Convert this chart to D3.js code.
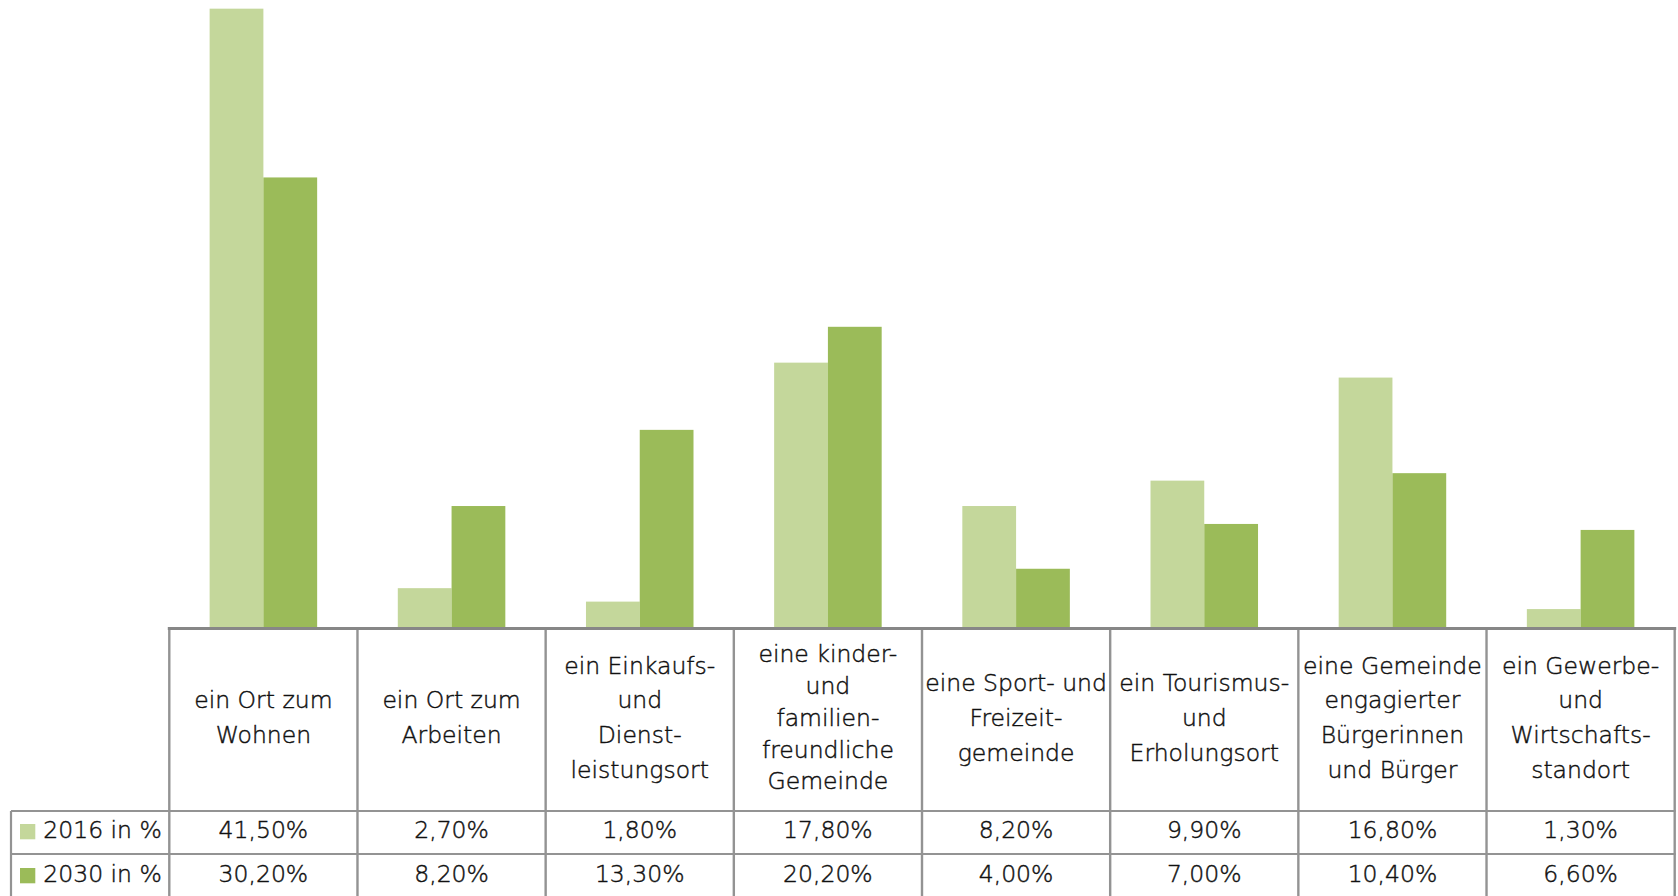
<!DOCTYPE html>
<html>
<head>
<meta charset="utf-8">
<script src="https://cdn.jsdelivr.net/npm/d3@7"></script>
<style>
  html, body { margin: 0; padding: 0; background: #ffffff; }
  svg { display: block; }
  text { font-family: "DejaVu Sans", sans-serif; font-weight: 300; fill: #111111; stroke: #111111; stroke-width: 0.45px; }
</style>
</head>
<body>
<svg id="chart" width="1678" height="896"></svg>
<script>
// Category labels, broken into the lines shown in the table header cells
const categories = [
  ["ein Ort zum", "Wohnen"],
  ["ein Ort zum", "Arbeiten"],
  ["ein Einkaufs-", "und", "Dienst-", "leistungsort"],
  ["eine kinder-", "und", "familien-", "freundliche", "Gemeinde"],
  ["eine Sport- und", "Freizeit-", "gemeinde"],
  ["ein Tourismus-", "und", "Erholungsort"],
  ["eine Gemeinde", "engagierter", "Bürgerinnen", "und Bürger"],
  ["ein Gewerbe-", "und", "Wirtschafts-", "standort"]
];
const seriesNames = ["2016 in %", "2030 in %"];
const values2016 = [41.5, 2.7, 1.8, 17.8, 8.2, 9.9, 16.8, 1.3];
const values2030 = [30.2, 8.2, 13.3, 20.2, 4.0, 7.0, 10.4, 6.6];
const seriesColors = ["#c4d79b", "#9bbb59"];

const svg = d3.select("#chart");

// Layout
const plotLeft = 169.3, plotRight = 1674.7;
const baseY = 628.5, topY = 1.2;
const legendLeft = 11;
const rowLines = [811, 854, 897];
const rowBaselines = [838, 882];
const headerCenter = 725.8;
const gridColor = "#939393";

const catIdx = categories.map((d, i) => i);
const x0 = d3.scaleBand().domain(catIdx).range([plotLeft, plotRight]).padding(0);
const x1 = d3.scaleBand().domain([0, 1]).range([0, x0.bandwidth()])
  .paddingInner(0).paddingOuter(0.75);
const y = d3.scaleLinear().domain([0, 42]).range([baseY, topY]);

const seriesData = [values2016, values2030];

// Bars
const groups = svg.append("g").selectAll("g")
  .data(catIdx).join("g")
  .attr("transform", i => `translate(${x0(i)},0)`);
groups.selectAll("rect")
  .data(i => seriesData.map((vals, s) => ({ s, v: vals[i] })))
  .join("rect")
  .attr("x", d => x1(d.s))
  .attr("width", x1.bandwidth())
  .attr("y", d => y(d.v))
  .attr("height", d => baseY - y(d.v))
  .attr("fill", d => seriesColors[d.s]);

// Data table grid
const grid = svg.append("g").attr("fill", "none").attr("stroke", gridColor);
const colEdges = catIdx.map(i => x0(i)).concat([plotRight]);
grid.selectAll("line.v")
  .data(colEdges).join("line")
  .attr("class", "v")
  .attr("x1", d => d).attr("x2", d => d)
  .attr("y1", baseY).attr("y2", 900)
  .attr("stroke-width", 2.4);
grid.append("line")
  .attr("x1", legendLeft).attr("x2", legendLeft)
  .attr("y1", rowLines[0]).attr("y2", 900)
  .attr("stroke-width", 2.2);
grid.selectAll("line.h")
  .data(rowLines).join("line")
  .attr("class", "h")
  .attr("x1", legendLeft).attr("x2", plotRight + 1)
  .attr("y1", d => d).attr("y2", d => d)
  .attr("stroke-width", 2.2);

// Category axis line
svg.append("line")
  .attr("x1", plotLeft - 1.5).attr("x2", plotRight + 1.5)
  .attr("y1", baseY).attr("y2", baseY)
  .attr("stroke", "#878787").attr("stroke-width", 3);

// Header labels
const fontSize = 23.5;
const header = svg.append("g").attr("font-size", fontSize).attr("text-anchor", "middle");
header.selectAll("text")
  .data(catIdx).join("text")
  .attr("x", i => x0(i) + x0.bandwidth() / 2)
  .each(function (i) {
    const lines = categories[i];
    const gap = lines.length > 4 ? 31.8 : 34.8;
    const first = headerCenter - gap * (lines.length - 1) / 2;
    d3.select(this).selectAll("tspan")
      .data(lines).join("tspan")
      .attr("x", x0(i) + x0.bandwidth() / 2)
      .attr("y", (d, k) => first + k * gap)
      .text(d => d);
  });

// Value rows
const fmt = v => d3.format(".2f")(v).replace(".", ",") + "%";
const rows = svg.append("g").attr("font-size", fontSize).attr("text-anchor", "middle");
seriesData.forEach((vals, s) => {
  rows.append("g").selectAll("text")
    .data(vals).join("text")
    .attr("x", (v, i) => x0(i) + x0.bandwidth() / 2)
    .attr("y", rowBaselines[s])
    .text(fmt);
});

// Legend keys in the row headers
const legend = svg.append("g").attr("font-size", fontSize);
seriesNames.forEach((name, s) => {
  legend.append("rect")
    .attr("x", 20).attr("y", rowBaselines[s] - 14)
    .attr("width", 15.3).attr("height", 15.3)
    .attr("fill", seriesColors[s]);
  legend.append("text")
    .attr("x", 43.3).attr("y", rowBaselines[s])
    .text(name);
});
</script>
</body>
</html>
